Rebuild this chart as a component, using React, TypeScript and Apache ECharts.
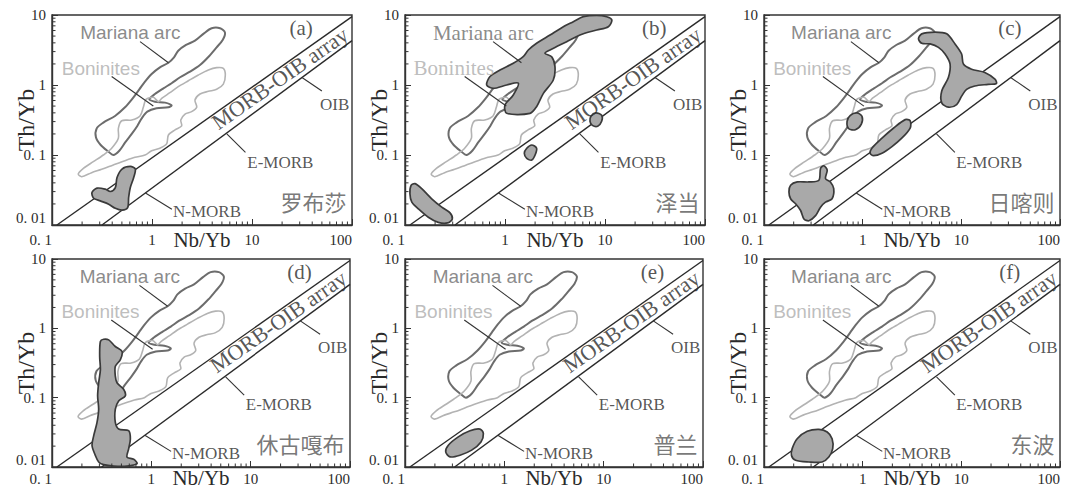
import { useEffect, useRef } from 'react';
import * as echarts from 'echarts';

// ---------- axes ----------
const X_MIN = 0.1;
const X_MAX = 100;
const Y_MIN = 0.01;
const Y_MAX = 10;
const xMajorTicks = [0.1, 1, 10, 100];
const xTickLabels = ['0. 1', '1', '10', '100'];
const yMajorTicks = [0.01, 0.1, 1, 10];
const yTickLabels = ['0. 01', '0. 1', '1', '10'];
const xMinorTicks = [0.2, 0.3, 0.4, 0.5, 0.6, 0.7, 0.8, 0.9, 2, 3, 4, 5, 6, 7, 8, 9, 20, 30, 40, 50, 60, 70, 80, 90];
const yMinorTicks = [0.02, 0.03, 0.04, 0.05, 0.06, 0.07, 0.08, 0.09, 0.2, 0.3, 0.4, 0.5, 0.6, 0.7, 0.8, 0.9, 2, 3, 4, 5, 6, 7, 8, 9];

// ---------- reference fields (Nb/Yb, Th/Yb) ----------
const marianaArc = [
  [5.37, 5.6], [4.79, 6.46], [3.95, 6.46], [3.31, 5.47], [2.69, 4.3], [2.19, 3.73], [1.83, 3.09], [1.66, 2.48],
  [1.46, 2.08], [1.2, 1.79], [0.992, 1.44], [0.851, 1.12], [0.747, 0.867], [0.641, 0.645], [0.537, 0.48],
  [0.427, 0.361], [0.326, 0.29], [0.28, 0.24], [0.275, 0.179], [0.307, 0.139], [0.366, 0.112], [0.41, 0.1],
  [0.471, 0.115], [0.537, 0.15], [0.627, 0.2], [0.713, 0.26], [0.789, 0.334], [0.898, 0.416], [1.11, 0.464],
  [1.46, 0.48], [1.57, 0.513], [1.35, 0.56], [1.07, 0.578], [0.94, 0.624], [1.07, 0.743], [1.3, 0.896],
  [1.57, 1.06], [1.91, 1.29], [2.4, 1.55], [3.02, 1.93], [3.74, 2.6], [4.43, 3.45], [5.09, 4.39],
];
const boninites = [
  [5.17, 1.73], [5.41, 1.39], [5.17, 1.03], [4.43, 0.867], [3.66, 0.812], [3.02, 0.743], [2.69, 0.611], [2.8, 0.48],
  [2.49, 0.416], [2.14, 0.385], [1.94, 0.316], [1.98, 0.26], [1.7, 0.228], [1.46, 0.193], [1.4, 0.144], [1.2, 0.125],
  [0.992, 0.115], [0.851, 0.1], [0.676, 0.0926], [0.537, 0.083], [0.41, 0.072], [0.314, 0.0624], [0.249, 0.056],
  [0.198, 0.049], [0.183, 0.0535], [0.206, 0.0646], [0.259, 0.0803], [0.326, 0.1], [0.395, 0.125], [0.461, 0.173],
  [0.461, 0.24], [0.498, 0.309], [0.627, 0.316], [0.759, 0.361], [0.819, 0.48], [0.871, 0.624], [1.03, 0.667],
  [1.16, 0.578], [1.25, 0.645], [1.51, 0.776], [1.83, 0.946], [2.31, 1.15], [2.91, 1.39], [3.66, 1.64], [4.43, 1.77],
];

// MORB-OIB array boundaries (two end points each)
const arrayUpper = [[0.112, 0.01], [100, 9.5]];
const arrayLower = [[0.316, 0.01], [100, 4.3]];

// ---------- sample fields ----------
const luobusha = [
  [0.251, 0.0291], [0.282, 0.0336], [0.341, 0.0325], [0.383, 0.0301], [0.43, 0.0343], [0.447, 0.0478], [0.501, 0.063],
  [0.607, 0.0687], [0.681, 0.063], [0.656, 0.0478], [0.607, 0.0343], [0.584, 0.0247], [0.571, 0.0177], [0.501, 0.0163],
  [0.43, 0.0173], [0.369, 0.0198], [0.304, 0.0221], [0.261, 0.0241],
];
const zedangA = [
  [11.7, 8.48], [10.4, 9.46], [8.26, 9.9], [6.07, 9.46], [4.82, 8.02], [3.83, 6.81], [2.82, 5.18], [2.07, 3.94],
  [1.71, 3.16], [1.52, 2.54], [1.21, 2.04], [0.891, 1.64], [0.708, 1.32], [0.656, 1.0], [0.764, 0.896], [1.04, 1.0],
  [1.36, 1.06], [1.21, 0.72], [1.0, 0.518], [1.04, 0.394], [1.78, 0.394], [2.07, 0.49], [2.42, 0.76], [3.04, 1.18],
  [3.16, 1.83], [2.93, 2.54], [2.51, 2.83], [2.82, 3.16], [4.14, 4.16], [5.62, 5.18], [8.26, 6.11], [10.8, 6.81],
];
const zedangB = [[1.65, 0.125], [1.85, 0.139], [2.07, 0.125], [2.0, 0.1], [1.85, 0.0847], [1.65, 0.0895], [1.56, 0.106]];
const zedangC = [[7.24, 0.357], [8.07, 0.399], [9.26, 0.369], [9.26, 0.303], [8.45, 0.257], [7.47, 0.265], [7.08, 0.303]];
const zedangD = [
  [0.115, 0.0369], [0.126, 0.039], [0.147, 0.033], [0.185, 0.0237], [0.233, 0.018], [0.282, 0.0149], [0.297, 0.0122],
  [0.267, 0.0107], [0.215, 0.0109], [0.171, 0.0129], [0.136, 0.017], [0.117, 0.0212], [0.112, 0.028],
];
const xigazeA = [
  [3.68, 4.56], [3.97, 5.38], [5.42, 5.69], [7.11, 5.38], [8.63, 3.86], [10.07, 2.77], [10.5, 1.99], [12.7, 1.68],
  [17.3, 1.51], [21.9, 1.21], [22.7, 1.05], [18.7, 1.02], [13.7, 0.968], [11.3, 0.866], [10.07, 0.694], [8.97, 0.526],
  [7.39, 0.482], [6.33, 0.556], [6.33, 0.819], [7.39, 1.28], [7.69, 1.99], [6.84, 2.77], [5.86, 3.45], [4.83, 3.86],
  [3.97, 3.94],
];
const xigazeB = [[0.695, 0.303], [0.75, 0.369], [0.877, 0.399], [0.984, 0.357], [0.97, 0.277], [0.843, 0.23], [0.723, 0.237]];
const xigazeC = [
  [1.19, 0.106], [1.24, 0.125], [1.57, 0.174], [2.06, 0.243], [2.7, 0.32], [3.03, 0.309], [3.03, 0.243], [2.49, 0.174],
  [1.98, 0.132], [1.57, 0.106], [1.29, 0.0978],
];
const xigazeD = [
  [0.186, 0.0369], [0.217, 0.0412], [0.285, 0.0412], [0.36, 0.0436], [0.374, 0.0643], [0.404, 0.0702], [0.437, 0.0608],
  [0.42, 0.046], [0.471, 0.0412], [0.509, 0.033], [0.49, 0.0237], [0.42, 0.0212], [0.374, 0.018], [0.333, 0.0136],
  [0.285, 0.0115], [0.254, 0.0122], [0.235, 0.0161], [0.209, 0.0201], [0.186, 0.0237], [0.179, 0.0296],
];
const xiugugabu = [
  [0.307, 0.646], [0.331, 0.696], [0.372, 0.681], [0.434, 0.547], [0.507, 0.464], [0.488, 0.353], [0.434, 0.283],
  [0.434, 0.204], [0.451, 0.164], [0.526, 0.132], [0.547, 0.106], [0.469, 0.0896], [0.434, 0.0681], [0.434, 0.044],
  [0.469, 0.0353], [0.591, 0.0334], [0.615, 0.0254], [0.591, 0.0183], [0.569, 0.0139], [0.664, 0.0129], [0.718, 0.0112],
  [0.569, 0.0103], [0.418, 0.0103], [0.331, 0.0108], [0.295, 0.0118], [0.273, 0.0147], [0.253, 0.0204], [0.263, 0.0283],
  [0.284, 0.044], [0.295, 0.0681], [0.288, 0.106], [0.295, 0.164], [0.307, 0.254], [0.302, 0.394],
];
const pulan = [
  [0.257, 0.0165], [0.273, 0.0206], [0.344, 0.0272], [0.451, 0.0333], [0.569, 0.0352], [0.615, 0.0304], [0.582, 0.023],
  [0.469, 0.0175], [0.358, 0.0148], [0.284, 0.014],
];
const dongbo = [
  [0.193, 0.0184], [0.217, 0.0256], [0.274, 0.0327], [0.36, 0.0349], [0.437, 0.032], [0.49, 0.0256], [0.497, 0.0184],
  [0.454, 0.0139], [0.388, 0.0118], [0.285, 0.0118], [0.209, 0.0125], [0.19, 0.0147],
];

// ---------- annotations ----------
const marianaLeader = [[0.76, 4.16], [1.46, 2.08]];
const boninitesLeader = [[0.395, 1.32], [1.03, 0.5]];
const oibLeader = [[31.6, 1.28], [50, 0.82]];
const emorbLeader = [[5.6, 0.2], [8.6, 0.109]];
const nmorbLeader = [[0.86, 0.0287], [1.58, 0.0168]];

const marianaLabelAt = [0.607, 5.62];
const boninitesLabelAt = [0.308, 1.73];
const oibLabelAt = [67, 0.53];
const emorbLabelAt = [19.2, 0.079];
const nmorbLabelAt = [3.55, 0.0155];
const arrayLabelAt = [19, 1.25];
const tagLabelAt = [31, 6.6];
const nameLabelAt = [89, 0.022];

const panelTags = ['(a)', '(b)', '(c)', '(d)', '(e)', '(f)'];
const panelNames = ['罗布莎', '泽当', '日喀则', '休古嘎布', '普兰', '东波'];
const panelFields = [
  [luobusha],
  [zedangA, zedangB, zedangC, zedangD],
  [xigazeA, xigazeB, xigazeC, xigazeD],
  [xiugugabu],
  [pulan],
  [dongbo],
];
const panelHasArrayLabel = [true, true, false, true, true, true];
const panelSerifFieldLabels = [false, true, false, false, false, false];

// ---------- layout ----------
const layout = [
  { left: 52, top: 15, width: 300, height: 210 },
  { left: 405, top: 15, width: 300, height: 210 },
  { left: 764, top: 15, width: 296, height: 210 },
  { left: 52, top: 259, width: 298, height: 208 },
  { left: 405, top: 259, width: 298, height: 208 },
  { left: 764, top: 259, width: 296, height: 208 },
];

const SERIF = '"Liberation Serif", "Times New Roman", serif';
const SANS = '"Liberation Sans", Arial, sans-serif';
const CJK = '"Noto Sans CJK SC", sans-serif';
const INK = '#2a2a2a';

function near(a: number, b: number) {
  return Math.abs(Math.log10(a) - Math.log10(b)) < 1e-6;
}
function fmtX(v: number) {
  const i = xMajorTicks.findIndex((t) => near(t, v));
  return i >= 0 ? xTickLabels[i] : '';
}
function fmtY(v: number) {
  const i = yMajorTicks.findIndex((t) => near(t, v));
  return i >= 0 ? yTickLabels[i] : '';
}

function polygonSeries(i: number, pts: number[][], style: any, z: number) {
  return {
    type: 'custom',
    xAxisIndex: i,
    yAxisIndex: i,
    silent: true,
    clip: true,
    z,
    data: pts,
    renderItem: (params: any, api: any) => {
      if (params.dataIndex !== 0) return null;
      return {
        type: 'polygon',
        shape: { points: pts.map((p) => api.coord(p)), smooth: 0.3 },
        style,
      };
    },
  };
}

function buildOption() {
  const grid: any[] = [];
  const xAxis: any[] = [];
  const yAxis: any[] = [];
  const series: any[] = [];

  layout.forEach((l, i) => {
    const topRow = i < 3;
    grid.push({
      ...l,
      show: true,
      borderColor: '#333',
      borderWidth: 1.4,
      backgroundColor: 'transparent',
      containLabel: false,
      outerBoundsMode: 'none',
    });
    xAxis.push({
      type: 'log',
      logBase: 10,
      gridIndex: i,
      min: X_MIN,
      max: X_MAX,
      name: 'Nb/Yb',
      nameLocation: 'middle',
      nameGap: topRow ? 4 : 0,
      nameMoveOverlap: false,
      nameTextStyle: { fontFamily: SERIF, fontSize: 21, fontWeight: 'normal', color: INK },
      axisLine: { show: true, lineStyle: { color: '#333', width: 1.4 } },
      axisTick: { show: true, inside: true, length: 6, lineStyle: { color: '#333', width: 1 } },
      minorTick: { show: false },
      splitLine: { show: false },
      axisLabel: {
        show: true,
        margin: topRow ? 7 : 4,
        fontFamily: SERIF,
        fontSize: 15,
        fontWeight: 'normal',
        color: INK,
        formatter: fmtX,
        showMinLabel: true,
        showMaxLabel: true,
        hideOverlap: false,
        alignMinLabel: 'right',
        alignMaxLabel: 'right',
      },
    });
    yAxis.push({
      type: 'log',
      logBase: 10,
      gridIndex: i,
      min: Y_MIN,
      max: Y_MAX,
      name: 'Th/Yb',
      nameLocation: 'middle',
      nameRotate: 90,
      nameGap: 14,
      nameMoveOverlap: false,
      nameTextStyle: { fontFamily: SERIF, fontSize: 24, fontWeight: 'normal', color: INK },
      axisLine: { show: true, lineStyle: { color: '#333', width: 1.4 } },
      axisTick: { show: true, inside: true, length: 6, lineStyle: { color: '#333', width: 1 } },
      minorTick: { show: false },
      splitLine: { show: false },
      axisLabel: {
        show: true,
        margin: 6,
        fontFamily: SERIF,
        fontSize: 15,
        fontWeight: 'normal',
        color: INK,
        formatter: fmtY,
        showMinLabel: true,
        showMaxLabel: true,
        hideOverlap: false,
        verticalAlignMinLabel: 'bottom',
      },
    });

    // reference fields
    series.push(polygonSeries(i, marianaArc, { fill: 'none', stroke: '#6c6c6c', lineWidth: 2 }, 2));
    series.push(polygonSeries(i, boninites, { fill: 'none', stroke: '#b3b3b3', lineWidth: 1.6 }, 2));

    // MORB-OIB array
    [arrayUpper, arrayLower].forEach((ln) => {
      series.push({
        type: 'line',
        xAxisIndex: i,
        yAxisIndex: i,
        data: ln,
        symbol: 'none',
        silent: true,
        clip: true,
        z: 3,
        lineStyle: { color: INK, width: 1.4 },
      });
    });

    // sample fields
    panelFields[i].forEach((f) => {
      series.push(polygonSeries(i, f, { fill: '#a9a9a9', stroke: '#3a3a3a', lineWidth: 1.7 }, 4));
    });

    // leader lines
    series.push({
      type: 'custom',
      xAxisIndex: i,
      yAxisIndex: i,
      silent: true,
      z: 5,
      data: [marianaLeader, boninitesLeader, oibLeader, emorbLeader, nmorbLeader].map((s) => [s[0][0], s[0][1], s[1][0], s[1][1]]),
      renderItem: (params: any, api: any) => {
        const p1 = api.coord([api.value(0), api.value(1)]);
        const p2 = api.coord([api.value(2), api.value(3)]);
        return {
          type: 'line',
          shape: { x1: p1[0], y1: p1[1], x2: p2[0], y2: p2[1] },
          style: { stroke: '#333', lineWidth: 1.1 },
        };
      },
    });

    // minor ticks
    series.push({
      type: 'custom',
      xAxisIndex: i,
      yAxisIndex: i,
      silent: true,
      clip: false,
      z: 6,
      data: xMinorTicks.map((v) => [v, Y_MIN]),
      renderItem: (params: any, api: any) => {
        const c = api.coord([api.value(0), api.value(1)]);
        return { type: 'line', shape: { x1: c[0], y1: c[1], x2: c[0], y2: c[1] - 3.5 }, style: { stroke: '#333', lineWidth: 1 } };
      },
    });
    series.push({
      type: 'custom',
      xAxisIndex: i,
      yAxisIndex: i,
      silent: true,
      clip: false,
      z: 6,
      data: yMinorTicks.map((v) => [X_MIN, v]),
      renderItem: (params: any, api: any) => {
        const c = api.coord([api.value(0), api.value(1)]);
        return { type: 'line', shape: { x1: c[0], y1: c[1], x2: c[0] + 3.5, y2: c[1] }, style: { stroke: '#333', lineWidth: 1 } };
      },
    });

    // texts
    const serifLbl = { fontFamily: SERIF, fontSize: 17, color: INK };
    const fieldFont = panelSerifFieldLabels[i] ? { fontFamily: SERIF, fontSize: 21 } : { fontFamily: SANS, fontSize: 19 };
    const texts: any[] = [
      { at: marianaLabelAt, text: 'Mariana arc', style: { ...fieldFont, color: '#6c6c6c' } },
      { at: boninitesLabelAt, text: 'Boninites', style: { ...fieldFont, color: '#adadad' } },
      { at: oibLabelAt, text: 'OIB', style: serifLbl },
      { at: emorbLabelAt, text: 'E-MORB', style: serifLbl },
      { at: nmorbLabelAt, text: 'N-MORB', style: serifLbl },
      { at: tagLabelAt, text: panelTags[i], style: { fontFamily: SERIF, fontSize: 21, color: INK } },
      { at: nameLabelAt, text: panelNames[i], style: { fontFamily: CJK, fontSize: 22, color: '#555' }, position: 'left' },
    ];
    if (panelHasArrayLabel[i]) {
      texts.push({ at: arrayLabelAt, text: 'MORB-OIB array', style: { fontFamily: SERIF, fontSize: 22, color: INK }, rotate: 35 });
    }
    series.push({
      type: 'scatter',
      xAxisIndex: i,
      yAxisIndex: i,
      symbolSize: 1,
      itemStyle: { color: 'rgba(0,0,0,0)' },
      silent: true,
      clip: false,
      z: 7,
      data: texts.map((t) => ({
        value: t.at,
        label: {
          show: true,
          formatter: t.text,
          position: t.position || 'inside',
          distance: 0,
          rotate: t.rotate || 0,
          fontWeight: 'normal',
          ...t.style,
        },
      })),
    });
  });

  return {
    animation: false,
    backgroundColor: '#ffffff',
    textStyle: { fontFamily: SERIF },
    grid,
    xAxis,
    yAxis,
    series,
  };
}

export default function App() {
  const ref = useRef<HTMLDivElement>(null);
  useEffect(() => {
    document.body.style.margin = '0';
    document.body.style.overflow = 'hidden';
    if (!ref.current) return;
    const chart = echarts.init(ref.current, undefined, { renderer: 'svg' });
    chart.setOption(buildOption() as any);
    return () => chart.dispose();
  }, []);
  return <div ref={ref} style={{ width: 1068, height: 500 }} />;
}
